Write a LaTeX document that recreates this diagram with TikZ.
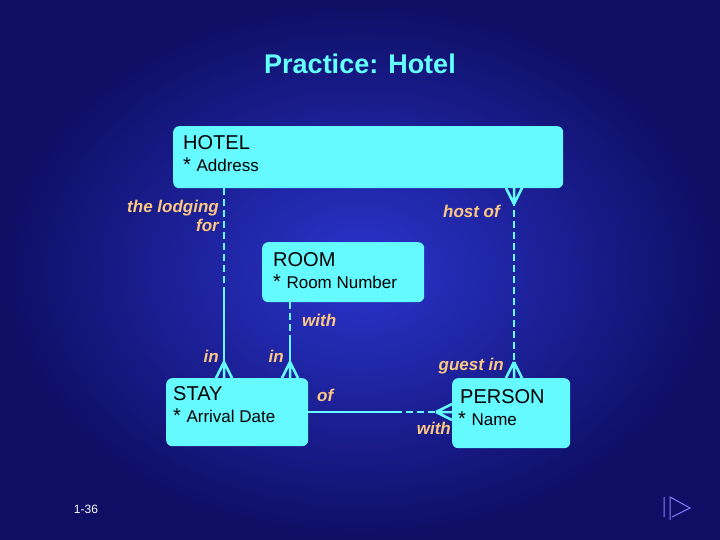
\documentclass[tikz,border=0pt]{standalone}
\usepackage{fontspec}
\setmainfont{Liberation Sans}
\usetikzlibrary{positioning}
\definecolor{bgdark}{RGB}{14,14,100}
\definecolor{bglight}{RGB}{42,52,205}
\definecolor{boxcyan}{RGB}{100,250,255}
\definecolor{titlecyan}{RGB}{100,255,255}
\definecolor{labelorange}{RGB}{255,200,130}
\tikzstyle{entity}=[rectangle, rounded corners=6pt, fill=boxcyan, anchor=north west, align=left, inner sep=0pt]
\tikzstyle{etext}=[anchor=north west, align=left, inner sep=0pt, font=\fontsize{20}{22}\selectfont]
\tikzstyle{rel}=[text=labelorange, font=\fontsize{17}{19}\selectfont\bfseries\itshape, align=right, inner sep=0pt]
\tikzstyle{link}=[boxcyan, line width=2.5pt]
\tikzstyle{opt}=[link, dash pattern=on 7pt off 4pt]
\newcommand{\crowup}[2]{\draw[link] (#1,#2-16) -- (#1-8,#2) (#1,#2-16) -- (#1,#2) (#1,#2-16) -- (#1+8,#2);}
\newcommand{\crowdown}[2]{\draw[link] (#1,#2+16) -- (#1-8,#2) (#1,#2+16) -- (#1,#2) (#1,#2+16) -- (#1+8,#2);}
\newcommand{\attr}[1]{{\fontsize{17}{19}\selectfont #1}}
\begin{document}
\begin{tikzpicture}[x=1pt, y=-1pt]
	\useasboundingbox (0,0) rectangle (720,540);
	\shade[inner color=bglight, outer color=bgdark] (0,0) rectangle (720,540);
	\node (title) [text=titlecyan, font=\fontsize{27}{29}\selectfont\bfseries] at (360,64) {Practice: Hotel};

	\node (hotel) [entity, minimum width=390pt, minimum height=62pt] at (173,126) {};
	\node (hoteltext) [etext] at (183,135) {HOTEL\\* \attr{Address}};
	\node (room) [entity, minimum width=162pt, minimum height=60pt] at (262,242) {};
	\node (roomtext) [etext] at (273,252) {ROOM\\* \attr{Room Number}};
	\node (stay) [entity, minimum width=142pt, minimum height=68pt] at (166,378) {};
	\node (staytext) [etext] at (173,386) {STAY\\* \attr{Arrival Date}};
	\node (person) [entity, minimum width=118pt, minimum height=70pt] at (452,378) {};
	\node (persontext) [etext] at (458,389) {\hspace{2pt}PERSON\\* \attr{Name}};

	% hotel - stay
	\draw[opt] (224,188) -- (224,290);
	\draw[link] (224,290) -- (224,378);
	\crowup{224}{378}
	% room - stay
	\draw[opt] (290,302) -- (290,336);
	\draw[link] (290,336) -- (290,378);
	\crowup{290}{378}
	% hotel - person
	\draw[opt] (514,188) -- (514,378);
	\crowdown{514}{188}
	\crowup{514}{378}
	% stay - person
	\draw[link] (308,412) -- (395,412);
	\draw[opt] (395,412) -- (452,412);
	\draw[link] (436,412) -- (452,404) (436,412) -- (452,412) (436,412) -- (452,420);

	\node (lodging) [rel, anchor=north east] at (219,200) {the lodging\\for};
	\node (hostof) [rel, anchor=north east] at (500,205) {host of};
	\node (with1) [rel, anchor=north west] at (302,314) {with};
	\node (in1) [rel, anchor=north east] at (219,350) {in};
	\node (in2) [rel, anchor=north east] at (284,350) {in};
	\node (guestin) [rel, anchor=north east] at (504,358) {guest in};
	\node (of) [rel, anchor=north west] at (317,389) {of};
	\node (with2) [rel, anchor=north east] at (451,422) {with};

	\node (page) [text=white, font=\fontsize{12}{14}\selectfont] at (86,509) {1-36};
	\draw[blue!50!white, line width=1pt] (664,517) -- (664,497) (670,520) -- (670,497) -- (690,508) -- (672,517);
\end{tikzpicture}
\end{document}
